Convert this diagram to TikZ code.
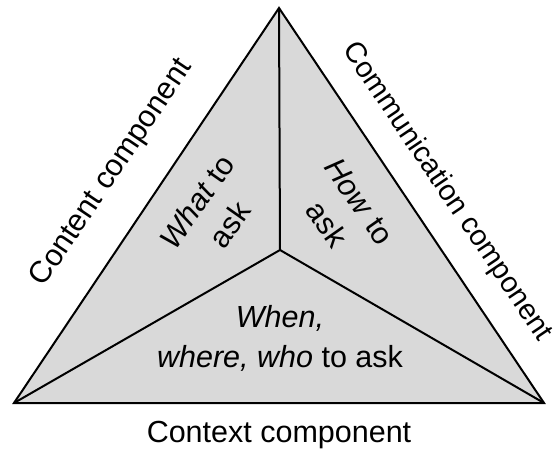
\documentclass[tikz,border=0pt]{standalone}
\usepackage{fontspec}
\setmainfont{Liberation Sans}
\definecolor{fillgray}{HTML}{D9D9D9}
\begin{document}
\begin{tikzpicture}[x=1pt,y=-1pt,
  edge/.style={line width=2pt, line join=miter},
  lbl/.style={font=\fontsize{30.5}{40}\selectfont, inner sep=0pt, align=center}]
\useasboundingbox (0,0) rectangle (559,452);
% corners of the triangle and its inner meeting point
\coordinate (T) at (279,8);
\coordinate (L) at (14,403);
\coordinate (R) at (544,403);
\coordinate (C) at (280,250);
\filldraw[edge, fill=fillgray] (T) -- (L) -- (R) -- cycle;
\draw[edge] (C) -- (T) (C) -- (L) (C) -- (R);
% inner segments
\node[lbl, rotate=55] (what) at (213,213) {\textit{What} to\\ask};
\node[lbl, rotate=-55] (how) at (343,213) {\textit{How} to\\ask};
\node[lbl] (when) at (280,338) {\textit{When,}\\\textit{where, who} to ask};
% outer labels
\node[lbl, rotate=56] (content) at (112,173) {Content component};
\node[lbl, rotate=-56, font=\fontsize{29}{40}\selectfont] (comm) at (447,192) {Communication component};
\node[lbl] (context) at (279,435) {Context component};
\end{tikzpicture}
\end{document}
